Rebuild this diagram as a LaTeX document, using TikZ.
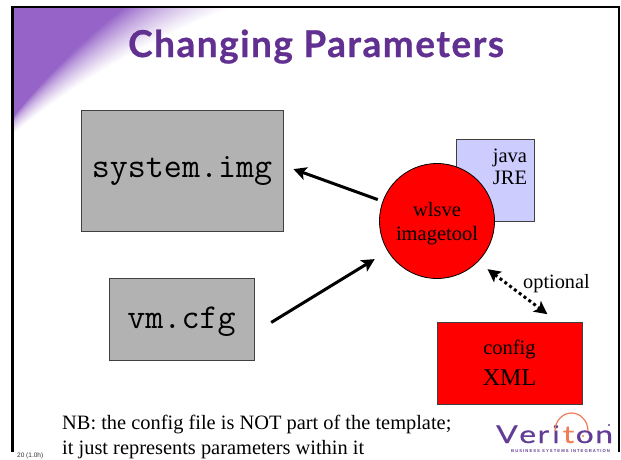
\documentclass[tikz,border=0pt]{standalone}
\usepackage{fontspec}
\setmainfont{Liberation Serif}
\setsansfont{Liberation Sans}
\newfontfamily\titlefont[LetterSpace=4]{Lato}
\newfontfamily\logofont[FakeBold=0.4,FakeStretch=1.3]{Lato}
\usetikzlibrary{arrows.meta}
\definecolor{vpurple}{RGB}{150,100,200}
\definecolor{vtitle}{RGB}{97,48,145}
\definecolor{vlogo}{RGB}{98,60,150}
\definecolor{vorange}{RGB}{240,125,85}
\definecolor{vjava}{RGB}{204,204,255}
\definecolor{vgrey}{RGB}{178,178,178}
\newcommand{\fs}[2]{\fontsize{#1}{#2}\selectfont}
\tikzset{
  box/.style={draw=black!75,line width=1pt,inner sep=0pt,anchor=north west},
  flow/.style={line width=3pt,-{Stealth[length=13pt,width=13pt,inset=3pt]}},
  opt/.style={line width=3pt,dash pattern=on 3pt off 3pt,{Stealth[length=13pt,width=13pt,inset=3pt]}-{Stealth[length=13pt,width=13pt,inset=3pt]}},
  lbl/.style={font=\fs{20.5}{24},align=center,inner sep=0pt},
  mono/.style={font=\ttfamily\fs{35}{36},inner sep=0pt}
}
\begin{document}
\begin{tikzpicture}[x=1pt,y=-1pt]
\useasboundingbox (0,0) rectangle (621,459);
\begin{scope}
\clip (12,7) rectangle (619,452);
\fill[vpurple] (12,7) rectangle (619,452);
\foreach \i in {0,1,...,40}{
  \pgfmathsetmacro{\aa}{729+47*\i/40}
  \pgfmathsetmacro{\bb}{618-95*\i/40}
  \pgfmathsetmacro{\tt}{\i*2.5}
  \fill[white!\tt!vpurple] (620,460) ellipse ({\aa} and {\bb});
}
\end{scope}
\draw[line width=2.5pt] (12.5,452) -- (12.5,7) -- (619,7) -- (619,452);
\node[anchor=base west,inner sep=0pt,text=vtitle,font=\titlefont\bfseries\fs{37}{37}] (title) at (128,57) {\addfontfeature{FakeBold=0.6}Changing Parameters};
\node[box,fill=vgrey,minimum width=202pt,minimum height=121pt] (sys) at (81,110) {};
\node[mono] (syst) at (182,171) {system.img};
\node[box,fill=vgrey,minimum width=145pt,minimum height=82pt] (vm) at (109,278) {};
\node[mono] (vmt) at (181.5,322) {vm.cfg};
\node[box,fill=vjava,minimum width=78pt,minimum height=82pt] (java) at (456,139) {};
\node[lbl,font=\fs{20.5}{22}] (javat) at (510,167) {java\\JRE};
\node[circle,draw=black,line width=0.8pt,fill=red,minimum size=115pt,inner sep=0pt] (wls) at (437,221) {};
\node[lbl] (wlst) at (437,224) {wlsve\\imagetool};
\node[box,fill=red,minimum width=145pt,minimum height=82pt] (cfg) at (437,322) {};
\node[lbl,font=\fs{20.5}{31}] (cfgt) at (509.5,363) {config\\{\fontsize{24}{31}\selectfont XML}};
\node[font=\fs{20.3}{24},anchor=base west,inner sep=0pt] (opt) at (523,288) {optional};
\draw[flow,shorten <=63pt,shorten >=10pt] (wls.center) -- (sys.3.4);
\draw[flow,shorten <=19pt,shorten >=73pt] (vm.-10.2) -- (wls.center);
\draw[opt,shorten <=12pt,shorten >=13pt] (wls.-45) -- (cfg.41);
\node[anchor=west,align=left,inner sep=0pt,font=\fs{20.4}{25}] (nb) at (62,437) {NB: the config file is NOT part of the template;\\it just represents parameters within it};
\node[anchor=west,inner sep=0pt,font=\sffamily\fs{6.5}{7},text=black!80] (num) at (17,456) {20 (1.0h)};
\node[anchor=base west,inner sep=0pt,text=vlogo,font=\logofont\fs{24.5}{25}] (ver) at (496,443) {V\hspace{1.5pt}e\hspace{1.5pt}r\hspace{3pt}i\hspace{3pt}\textcolor{vorange}{t}\hspace{1.5pt}o\hspace{1.5pt}n};
\draw[vorange,line width=1.2pt] (555,431) arc[start angle=180,end angle=360,x radius=16.5,y radius=18];
\fill[vorange] (583,436) circle (1.2);
\fill[vlogo] (609,425) circle (1.2);
\node[anchor=west,inner sep=0pt,text=vlogo,font=\sffamily\bfseries\fs{4.2}{5}] (sub) at (511,451) {\addfontfeature{LetterSpace=25}BUSINESS SYSTEMS INTEGRATION};
\end{tikzpicture}
\end{document}
